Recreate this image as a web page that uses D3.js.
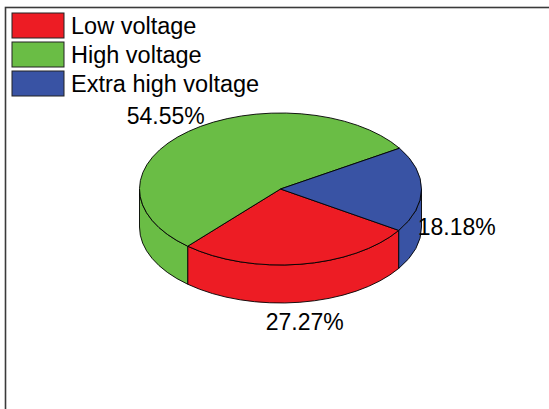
<!DOCTYPE html>
<html>
<head>
<meta charset="utf-8">
<script src="https://cdn.jsdelivr.net/npm/d3@7"></script>
<style>
  html, body { margin: 0; padding: 0; background: #fff; }
  svg { display: block; font-family: "Liberation Sans", Arial, sans-serif; }
</style>
</head>
<body>
<svg id="chart" width="549" height="409"></svg>
<script>
// Voltage level shares (percent)
const categories = ["Low voltage", "High voltage", "Extra high voltage"];
const shares = [27.27, 54.55, 18.18];
const colors = ["#ED1C24", "#6ABD45", "#3953A4"];

const W = 549, H = 409;
const svg = d3.select("#chart");

// Outer frame
svg.append("rect")
  .attr("x", 5.5).attr("y", 7.5)
  .attr("width", W + 20).attr("height", H + 20)
  .attr("fill", "none").attr("stroke", "#3a3a3a").attr("stroke-width", 1.6);

// 3D pie geometry
const cx = 280.5, cy = 189, rx = 141, ry = 76, depth = 38;
const deg = Math.PI / 180;

const pie = d3.pie().sort(null).value(d => d.v)
  .startAngle(123 * deg).endAngle(483 * deg);
const arcs = pie(categories.map((c, i) => ({ c, v: shares[i], color: colors[i] })));

// d3.pie angles run clockwise from 12 o'clock; convert to screen angle
const toScreen = a => a - Math.PI / 2;
const pt = (t, dy = 0) => [cx + rx * Math.cos(t), cy + dy + ry * Math.sin(t)];

// Front walls: portions of each slice facing the viewer (screen angles 0..PI)
const walls = svg.append("g");
arcs.forEach(d => {
  let a0 = toScreen(d.startAngle), a1 = toScreen(d.endAngle);
  // check each visible window, shifted by full turns
  for (let k = -1; k <= 2; k++) {
    const lo = Math.max(a0, 0 + 2 * Math.PI * k);
    const hi = Math.min(a1, Math.PI + 2 * Math.PI * k);
    if (hi - lo > 1e-6) {
      const p0 = pt(lo), p1 = pt(hi), q1 = pt(hi, depth), q0 = pt(lo, depth);
      const large = hi - lo > Math.PI ? 1 : 0;
      const path = `M${p0}A${rx},${ry} 0 ${large} 1 ${p1}L${q1}A${rx},${ry} 0 ${large} 0 ${q0}Z`;
      walls.append("path").attr("d", path)
        .attr("fill", d.data.color).attr("stroke", "#000").attr("stroke-width", 0.9)
        .attr("stroke-linejoin", "round");
    }
  }
});

// Top faces
const tops = svg.append("g");
arcs.forEach(d => {
  const a0 = toScreen(d.startAngle), a1 = toScreen(d.endAngle);
  const p0 = pt(a0), p1 = pt(a1);
  const large = a1 - a0 > Math.PI ? 1 : 0;
  tops.append("path")
    .attr("d", `M${cx},${cy}L${p0}A${rx},${ry} 0 ${large} 1 ${p1}Z`)
    .attr("fill", d.data.color).attr("stroke", "#000").attr("stroke-width", 0.9)
    .attr("stroke-linejoin", "round");
});

// Percent labels outside each slice
svg.append("g").selectAll("text").data(arcs).join("text")
  .attr("x", d => {
    const t = toScreen((d.startAngle + d.endAngle) / 2);
    return cx + Math.cos(t) * rx * 1.25;
  })
  .attr("y", d => {
    const t = toScreen((d.startAngle + d.endAngle) / 2);
    return cy + Math.sin(t) * ry * 1.26 + (Math.sin(t) >= -0.01 ? depth : 0);
  })
  .attr("text-anchor", "middle")
  .attr("dominant-baseline", "central")
  .attr("font-size", 23)
  .attr("fill", "#000")
  .text(d => d.data.v.toFixed(2) + "%");

// Legend
const legend = svg.append("g");
const rows = legend.selectAll("g").data(categories).join("g")
  .attr("transform", (d, i) => `translate(12,${13 + i * 29})`);
rows.append("rect")
  .attr("width", 52).attr("height", 25)
  .attr("fill", (d, i) => colors[i])
  .attr("stroke", "#222").attr("stroke-width", 1);
rows.append("text")
  .attr("x", 59).attr("y", 20.5)
  .attr("font-size", 23.5).attr("fill", "#000")
  .text(d => d);
</script>
</body>
</html>
